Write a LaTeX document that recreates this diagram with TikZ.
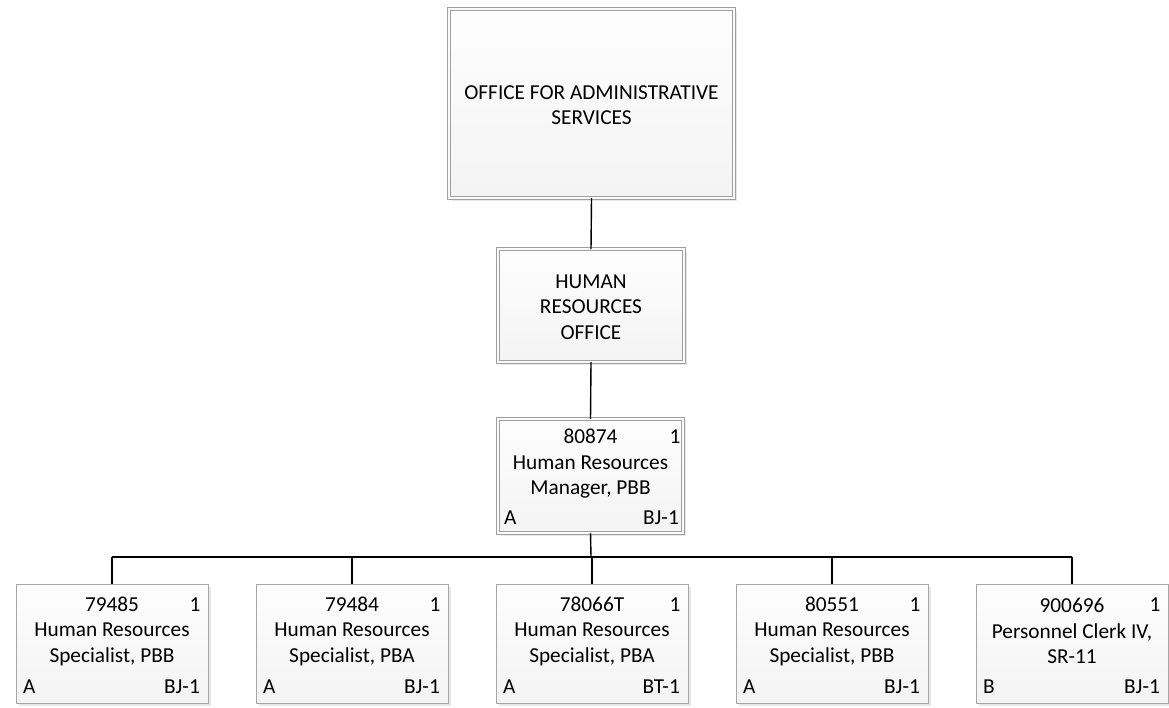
\documentclass[tikz,border=0pt]{standalone}
\usepackage{fontspec}
\setmainfont{Carlito}
\usetikzlibrary{shadows}
\begin{document}
\begin{tikzpicture}[x=1pt,y=-1pt,
  boxbase/.style={rectangle, inner sep=0pt, outer sep=0pt, top color=gray!1, bottom color=gray!9,
    drop shadow={shadow xshift=3pt, shadow yshift=-3pt, fill=gray!18, opacity=1}},
  unitbox/.style={boxbase, draw=gray!75, line width=0.9pt, double=gray!4, double distance=2.6pt},
  posbox/.style={boxbase, draw=gray!70, line width=0.9pt},
  txt/.style={align=center, inner sep=0pt, font=\fontsize{21.3}{25.5}\selectfont},
  lbl/.style={inner sep=0pt, font=\fontsize{21.3}{25}\selectfont},
  conn/.style={draw=black, line width=1.4pt}
]
\useasboundingbox (0,0) rectangle (1169,707);

% top units
\node[unitbox, minimum width=285pt, minimum height=189pt] (oas) at (591.5,103.5) {};
\node[txt] (oast) at (591.5,105) {OFFICE FOR ADMINISTRATIVE\\SERVICES};

\node[unitbox, minimum width=186pt, minimum height=113pt] (hro) at (591,305.5) {};
\node[txt] (hrot) at (591,307) {HUMAN\\RESOURCES\\OFFICE};

\node[unitbox, minimum width=185pt, minimum height=114pt] (mgr) at (590.5,476) {};
\node[txt] (mgrt) at (590.5,464) {80874\\Human Resources\\Manager, PBB};
\node[lbl] (mgrn) at (675,437) {1};
\node[lbl, anchor=west] (mgra) at (504,518) {A};
\node[lbl, anchor=east] (mgrc) at (679,518) {BJ-1};

% positions
\foreach \i/\cx/\num/\la/\lb/\cl/\cc in {
  1/112/79485/Human Resources/{Specialist, PBB}/A/BJ-1,
  2/352/79484/Human Resources/{Specialist, PBA}/A/BJ-1,
  3/592/78066T/Human Resources/{Specialist, PBA}/A/BT-1,
  4/832/80551/Human Resources/{Specialist, PBB}/A/BJ-1,
  5/1072/900696/{Personnel Clerk IV,}/SR-11/B/BJ-1}{
  \node[posbox, minimum width=192pt, minimum height=119pt] (p\i) at (\cx,643.5) {};
  \node[txt] (p\i t) at (\cx,631) {\num\\\la\\\lb};
  \node[lbl] (p\i n) at (\cx+83,605) {1};
  \node[lbl, anchor=west] (p\i a) at (\cx-89,687) {\cl};
  \node[lbl, anchor=east] (p\i c) at (\cx+88,687) {\cc};
}

% connectors
\coordinate (busL) at (112,557);
\coordinate (busR) at (1072,557);
\coordinate (busM) at (591,557);
\draw[conn] (oas.south) -- (hro.north);
\draw[conn] (hro.south) -- (mgr.north);
\draw[conn] (mgr.south) -- (busM);
\draw[conn] (busL) -- (busR);
\foreach \i in {1,...,5}{
  \draw[conn] (p\i.north) -- (p\i.north |- busL);
}
\end{tikzpicture}
\end{document}
